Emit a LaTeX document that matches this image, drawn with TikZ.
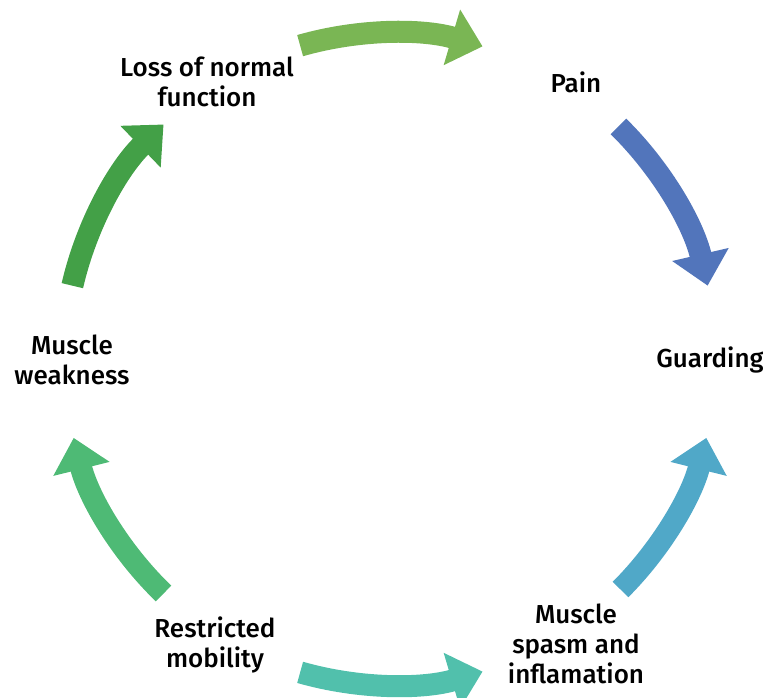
\documentclass[tikz,border=0pt]{standalone}
\usepackage{fontspec}
\setmainfont{Fira Sans Medium}
\usepackage{tikz}
\usetikzlibrary{arrows.meta}

\definecolor{lightgreen}{HTML}{7AB654}
\definecolor{painblue}{HTML}{5275BB}
\definecolor{skyblue}{HTML}{50A8C8}
\definecolor{teal}{HTML}{51C0AC}
\definecolor{midgreen}{HTML}{4EBA75}
\definecolor{darkgreen}{HTML}{43A047}

\begin{document}
\begin{tikzpicture}[x=1pt, y=1pt, stage/.style={align=center, text=black, font=\fontsize{26}{30}\selectfont}, flow/.style={line width=22pt, -{Triangle[width=56pt, length=32pt]}}]

    \useasboundingbox (0,0) rectangle (763,698);

    % Nodes
    \node[stage] (loss)       at (207,616) {Loss of normal\\function};
    \node[stage] (pain)       at (576,616) {Pain};
    \node[stage] (guarding)   at (710,338) {Guarding};
    \node[stage] (spasm)      at (576,54)  {Muscle\\spasm and\\inflamation};
    \node[stage] (restricted) at (215,53)  {Restricted\\mobility};
    \node[stage] (weakness)   at (72,338)  {Muscle\\weakness};

    % Arrow starts on the circle
    \coordinate (c) at (390,339);
    \path (c) ++(106:326)  coordinate (lossout);
    \path (c) ++(45.5:326) coordinate (painout);
    \path (c) ++(-45:326)  coordinate (spasmout);
    \path (c) ++(-106:326) coordinate (restrictedout);
    \path (c) ++(-134:326) coordinate (restrictedup);
    \path (c) ++(167:326)  coordinate (weaknessout);

    % Lines ---------------
    \draw[flow, lightgreen] (lossout) arc[start angle=106, end angle=73.5, radius=326];
    \draw[flow, painblue] (painout) arc[start angle=45.5, end angle=13, radius=326];
    \draw[flow, skyblue] (spasmout) arc[start angle=-45, end angle=-14, radius=326];
    \draw[flow, teal] (restrictedout) arc[start angle=-106, end angle=-73.5, radius=326];
    \draw[flow, midgreen] (restrictedup) arc[start angle=-134, end angle=-166, radius=326];
    \draw[flow, darkgreen] (weaknessout) arc[start angle=167, end angle=134, radius=326];

\end{tikzpicture}
\end{document}
